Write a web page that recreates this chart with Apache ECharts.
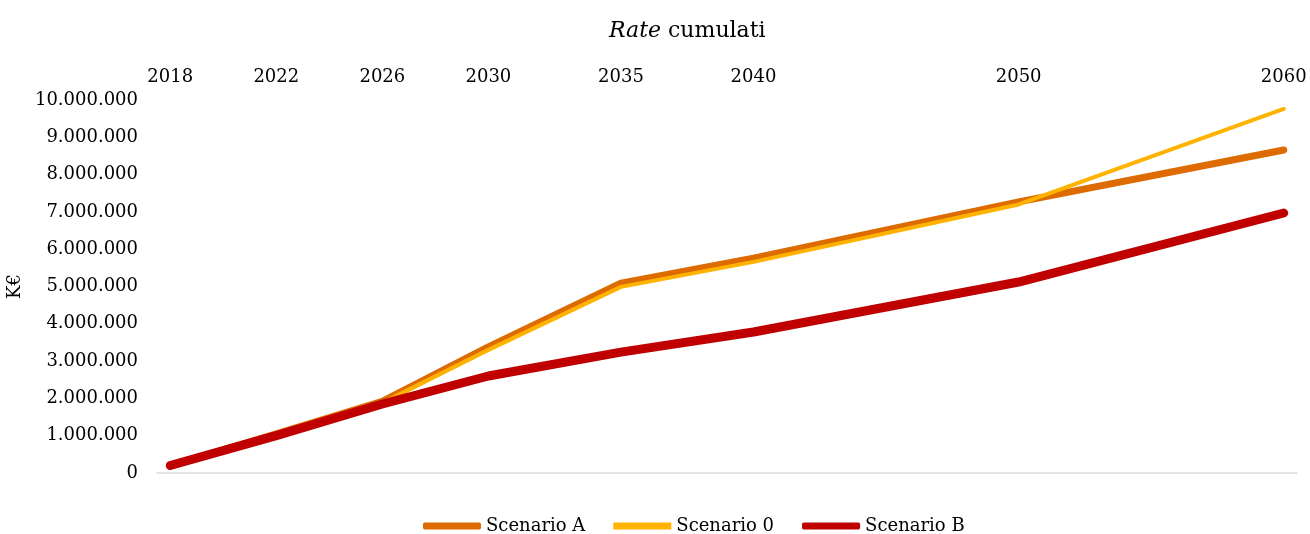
<!DOCTYPE html>
<html>
<head>
<meta charset="utf-8">
<script src="https://cdn.jsdelivr.net/npm/echarts@6/dist/echarts.min.js"></script>
<style>
  html, body { margin: 0; padding: 0; background: #fff; }
  #chart { width: 1310px; height: 534px; }
</style>
</head>
<body>
<div id="chart"></div>
<script>
  // anni sull'asse (spaziatura proporzionale)
  var years = [2018, 2022, 2026, 2030, 2035, 2040, 2050, 2060]
  var yTicks = [0, 1000000, 2000000, 3000000, 4000000, 5000000, 6000000, 7000000, 8000000, 9000000, 10000000]
  var scenarioA = [200000, 1050000, 1920000, 3380000, 5090000, 5760000, 7270000, 8660000]
  var scenario0 = [200000, 1050000, 1880000, 3300000, 4990000, 5660000, 7200000, 9760000]
  var scenarioB = [200000, 1000000, 1850000, 2600000, 3240000, 3780000, 5120000, 6970000]

  var font = "'DejaVu Serif', 'Liberation Serif', serif"

  function pairs(vals) {
    return years.map(function (y, i) { return [y, vals[i]] })
  }
  function fmt(v) {
    return String(v).replace(/\B(?=(\d{3})+(?!\d))/g, '.')
  }

  var myChart = echarts.init(document.getElementById('chart'))
  myChart.setOption({
    animation: false,
    textStyle: { fontFamily: font, color: '#000' },
    title: {
      text: '{i|Rate} cumulati',
      left: 604,
      top: 15,
      textStyle: {
        fontFamily: font,
        fontSize: 22,
        fontWeight: 'normal',
        color: '#000',
        rich: {
          i: { fontFamily: font, fontSize: 22, fontStyle: 'italic', color: '#000' }
        }
      }
    },
    grid: {
      left: 157,
      right: 13,
      top: 100,
      bottom: 61,
      outerBoundsMode: 'none'
    },
    legend: {
      top: 512,
      left: 418,
      itemWidth: 58,
      itemHeight: 7,
      itemGap: 28,
      textStyle: { fontFamily: font, fontSize: 18, color: '#000', padding: [0, 0, 0, 0] },
      data: [
        { name: 'Scenario A', icon: 'roundRect' },
        { name: 'Scenario 0', icon: 'rect' },
        { name: 'Scenario B', icon: 'roundRect' }
      ]
    },
    xAxis: [{
      type: 'value',
      position: 'top',
      min: 2017.5,
      max: 2060.5,
      axisLine: { show: false },
      axisTick: { show: false },
      splitLine: { show: false },
      axisLabel: {
        customValues: years,
        margin: 14,
        fontFamily: font,
        fontSize: 18,
        color: '#000',
        formatter: function (v) { return String(v) }
      }
    }, {
      type: 'value',
      position: 'bottom',
      min: 2017.5,
      max: 2060.5,
      axisLine: { show: true, onZero: false, lineStyle: { color: '#d9d9d9', width: 1.5 } },
      axisTick: { show: false },
      axisLabel: { show: false },
      splitLine: { show: false }
    }],
    yAxis: {
      type: 'value',
      min: 0,
      max: 10000000,
      interval: 1000000,
      name: 'K€',
      nameLocation: 'middle',
      nameGap: 128,
      nameRotate: 90,
      nameTextStyle: { fontFamily: font, fontSize: 18, color: '#000' },
      axisLine: { show: false },
      axisTick: { show: false },
      splitLine: { show: false },
      axisLabel: {
        margin: 19,
        fontFamily: font,
        fontSize: 18,
        color: '#000',
        formatter: function (v) { return yTicks.indexOf(v) >= 0 ? fmt(v) : '' }
      }
    },
    series: [{
      name: 'Scenario A',
      type: 'line',
      data: pairs(scenarioA),
      showSymbol: false,
      symbol: 'none',
      itemStyle: { color: '#de6b00' },
      lineStyle: { color: '#de6b00', width: 7, cap: 'round', join: 'round' }
    }, {
      name: 'Scenario 0',
      type: 'line',
      data: pairs(scenario0),
      showSymbol: false,
      symbol: 'none',
      itemStyle: { color: '#ffb300' },
      lineStyle: { color: '#ffb300', width: 4, cap: 'round', join: 'round' }
    }, {
      name: 'Scenario B',
      type: 'line',
      data: pairs(scenarioB),
      showSymbol: false,
      symbol: 'none',
      itemStyle: { color: '#c00000' },
      lineStyle: { color: '#c00000', width: 9, cap: 'round', join: 'round' }
    }]
  })
  window.addEventListener('resize', function () {
    myChart.resize()
  })
</script>
</body>
</html>
